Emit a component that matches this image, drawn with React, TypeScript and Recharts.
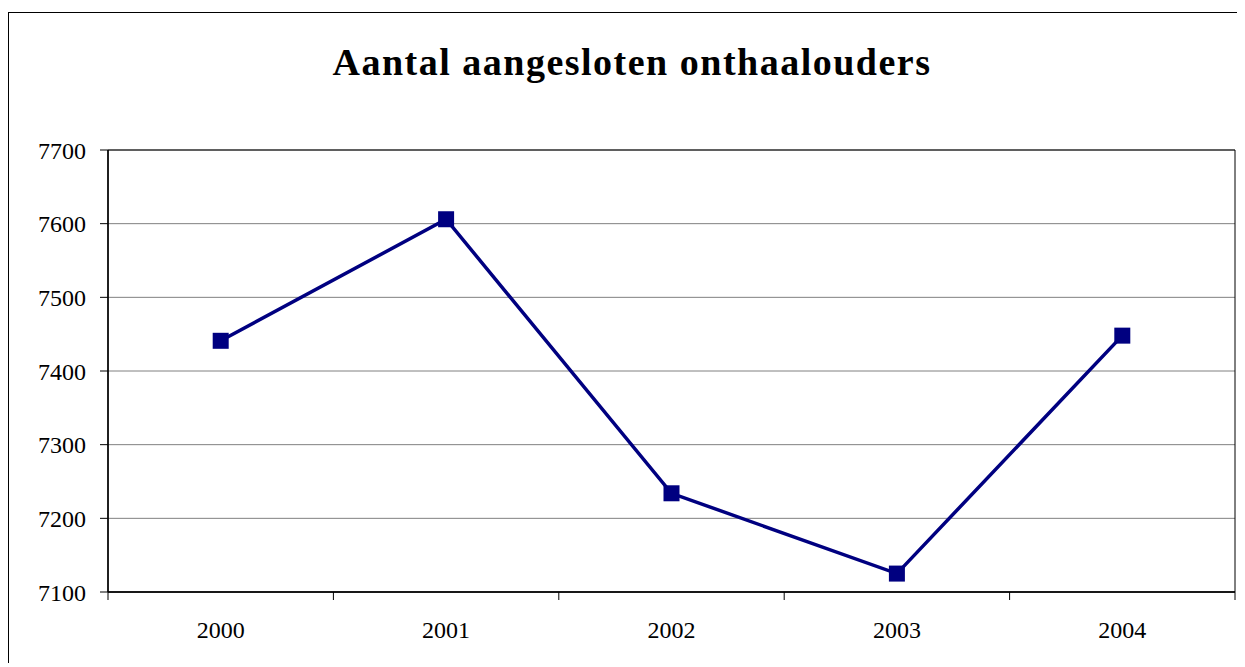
import React from 'react';
import { LineChart, Line, XAxis, YAxis, CartesianGrid, ReferenceArea } from 'recharts';

const years = ['2000', '2001', '2002', '2003', '2004'];
const values = [7441, 7606, 7234, 7125, 7448];
const yTicks = [7100, 7200, 7300, 7400, 7500, 7600, 7700];
const title = 'Aantal aangesloten onthaalouders';

const data = years.map((y, i) => ({ year: y, value: values[i] }));

const FONT = '"Liberation Serif", "Times New Roman", serif';

const SquareDot = (props: any) => {
  const { cx, cy, index } = props;
  if (cx == null || cy == null) return <g key={`d${index}`} />;
  return <rect key={`d${index}`} x={cx - 8} y={cy - 8} width={16} height={16} fill="#000080" />;
};

// Category tick: label at band centre, tick marks at band boundaries (Excel style)
const CategoryTick = (props: any) => {
  const { x, y, payload, index, visibleTicksCount } = props;
  const half = payload && payload.offset ? payload.offset : 0;
  const isLast = index === visibleTicksCount - 1;
  return (
    <g>
      <line x1={x - half} x2={x - half} y1={y} y2={y + 8} stroke="#000" strokeWidth={1} />
      {isLast && <line x1={x + half} x2={x + half} y1={y} y2={y + 8} stroke="#000" strokeWidth={1} />}
      <text x={x} y={y + 29} dy="0.71em" textAnchor="middle" fill="#000" fontSize={24} fontFamily={FONT}>
        {payload.value}
      </text>
    </g>
  );
};

export default function App() {
  return (
    <div style={{ paddingTop: 4 }}>
      <div
        style={{
          position: 'relative',
          width: 1236,
          height: 650,
          borderLeft: '1px solid #000',
          borderTop: '1px solid #000',
          fontFamily: FONT,
        }}
      >
        <div
          style={{
            position: 'absolute',
            top: 27,
            left: 5,
            width: 1236,
            textAlign: 'center',
            fontSize: 38,
            letterSpacing: 1.5,
            lineHeight: '44px',
            fontWeight: 'bold',
            fontFamily: FONT,
            color: '#000',
          }}
        >
          {title}
        </div>
        <LineChart
          width={1236}
          height={650}
          data={data}
          margin={{ top: 137, right: 10, left: 0, bottom: 0 }}
        >
          <CartesianGrid vertical={false} stroke="#808080" strokeWidth={1} />
          <ReferenceArea y1={7100} y2={7700} fill="none" stroke="#000" strokeWidth={1} ifOverflow="visible" />
          <XAxis
            dataKey="year"
            type="category"
            scale="band"
            height={71}
            interval={0}
            tickLine={false}
            tickSize={0}
            tickMargin={0}
            axisLine={{ stroke: '#000', strokeWidth: 1.5 }}
            tick={CategoryTick}
          />
          <YAxis
            domain={[7100, 7700]}
            ticks={yTicks}
            width={99}
            tickSize={8}
            tickMargin={14}
            interval={0}
            axisLine={{ stroke: '#000', strokeWidth: 1.5 }}
            tickLine={{ stroke: '#000' }}
            tick={{ fill: '#000', fontSize: 24, fontFamily: FONT }}
          />
          <Line
            type="linear"
            dataKey="value"
            stroke="#000080"
            strokeWidth={3.5}
            dot={SquareDot}
            activeDot={false}
            isAnimationActive={false}
          />
        </LineChart>
      </div>
    </div>
  );
}
